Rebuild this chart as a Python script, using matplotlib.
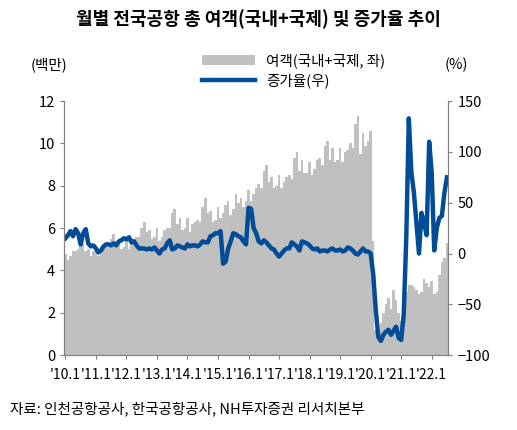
import numpy as np
import matplotlib
matplotlib.use('Agg')
import matplotlib.pyplot as plt

plt.rcParams['font.family'] = ['Noto Sans CJK KR', 'DejaVu Sans']

# monthly passengers (million), 2010.1 - 2022.7
passengers = [
    4.8, 4.5, 4.7, 4.9, 4.9, 5.0, 5.2, 5.3, 4.9, 5.0, 4.7, 4.9,
    5.0, 4.7, 4.8, 5.0, 5.1, 5.1, 5.5, 5.7, 5.2, 5.3, 5.0, 5.1,
    5.6, 5.0, 5.3, 5.5, 5.6, 5.6, 6.0, 6.3, 5.8, 5.9, 5.5, 5.6,
    6.0, 5.4, 5.6, 5.9, 6.0, 6.0, 6.7, 6.9, 6.2, 6.5, 5.9, 6.0,
    6.5, 5.8, 6.2, 6.3, 6.4, 6.3, 7.0, 7.4, 6.7, 6.8, 6.3, 6.4,
    7.0, 6.5, 6.7, 7.1, 7.3, 6.6, 6.9, 7.6, 7.2, 7.4, 7.0, 7.3,
    7.8, 7.3, 7.6, 7.9, 8.1, 7.9, 8.7, 9.0, 8.2, 8.4, 7.9, 8.0,
    8.5, 7.9, 8.2, 8.4, 8.5, 8.3, 9.3, 9.6, 8.7, 9.2, 8.6, 8.6,
    9.1, 8.5, 8.8, 9.2, 9.3, 9.0, 9.9, 10.1, 9.2, 9.8, 9.1, 9.2,
    9.8, 9.1, 9.6, 9.7, 10.0, 9.8, 10.9, 11.3, 9.5, 10.5, 9.9, 10.1,
    10.6, 5.4, 1.2, 1.0, 1.5, 2.0, 2.4, 2.7, 2.2, 3.1, 2.6, 2.0,
    1.6, 2.0, 3.0, 3.3, 3.3, 3.2, 3.1, 2.9, 3.0, 3.6, 3.4, 3.2,
    3.5, 2.9, 3.0, 3.8, 4.4, 4.6, 5.3,
]
# YoY growth (%)
growth = [
    15, 18, 22, 17, 24, 20, 9, 20, 24, 10, 7, 8,
    5, 1, 3, 7, 9, 9, 8, 10, 8, 12, 13, 15,
    14, 16, 11, 12, 8, 5, 5, 5, 4, 5, 4, 6,
    3, 0, 4, 5, 10, 13, 4, 5, 8, 7, 6, 5,
    9, 7, 8, 8, 7, 9, 12, 11, 11, 17, 18, 20,
    20, 22, -10, -8, 5, 12, 20, 19, 17, 16, 12, 9,
    45, 44, 25, 20, 12, 10, 13, 11, 8, 5, 4, 0,
    -3, 0, 3, 5, 5, 11, 9, 7, 3, 12, 11, 10,
    8, 5, 4, 5, 2, 3, 3, 2, 4, 5, 3, 3,
    4, 2, 3, 6, 5, 3, 0, -1, 2, 5, 2, 2,
    0, -20, -55, -82, -86, -80, -77, -75, -80, -76, -72, -83,
    -85, -60, 15, 133, 80, 60, 30, 0, 40, 30, 18, 110,
    80, 3, 25, 35, 37, 60, 75,
]
years = ["'10.1", "'11.1", "'12.1", "'13.1", "'14.1", "'15.1", "'16.1",
         "'17.1", "'18.1", "'19.1", "'20.1", "'21.1", "'22.1"]

x = np.arange(len(passengers))

fig = plt.figure(figsize=(5.17, 4.3), dpi=100)
ax = fig.add_axes([0.124, 0.174, 0.743, 0.591])
ax2 = ax.twinx()

ax.bar(x, passengers, width=1.0, color='#c0c0c0', label='여객(국내+국제, 좌)')
ax2.plot(x, growth, color='#004c97', lw=3.2, label='증가율(우)')

ax.set_xlim(-0.5, len(x) - 0.5)
ax.set_ylim(0, 12)
ax2.set_ylim(-100, 150)
ax.set_yticks(range(0, 13, 2))
ax2.set_yticks(range(-100, 151, 50))
ax.set_xticks(np.arange(len(years)) * 12)
ax.set_xticklabels(years)

for a in (ax, ax2):
    a.spines['top'].set_visible(False)
    for s in a.spines.values():
        s.set_color('#808080')
    a.tick_params(labelsize=10.5, colors='#808080', labelcolor='black', direction='out', length=3)
ax.tick_params(axis='x', labelsize=10, pad=6)

fig.text(0.5, 0.955, '월별 전국공항 총 여객(국내+국제) 및 증가율 추이', ha='center', va='center',
         fontsize=13, fontweight='bold')
fig.text(0.06, 0.84, '(백만)', fontsize=10.5)
fig.text(0.86, 0.84, '(%)', fontsize=10.5)
fig.text(0.02, 0.04, '자료: 인천공항공사, 한국공항공사, NH투자증권 리서치본부', fontsize=10.5)

h1, l1 = ax.get_legend_handles_labels()
h2, l2 = ax2.get_legend_handles_labels()
fig.legend(h1 + h2, l1 + l2, loc='upper left', bbox_to_anchor=(0.38, 0.89), frameon=False,
           fontsize=10.5, handlelength=3.6, labelspacing=0.4, borderaxespad=0)

fig.savefig('out.png')
